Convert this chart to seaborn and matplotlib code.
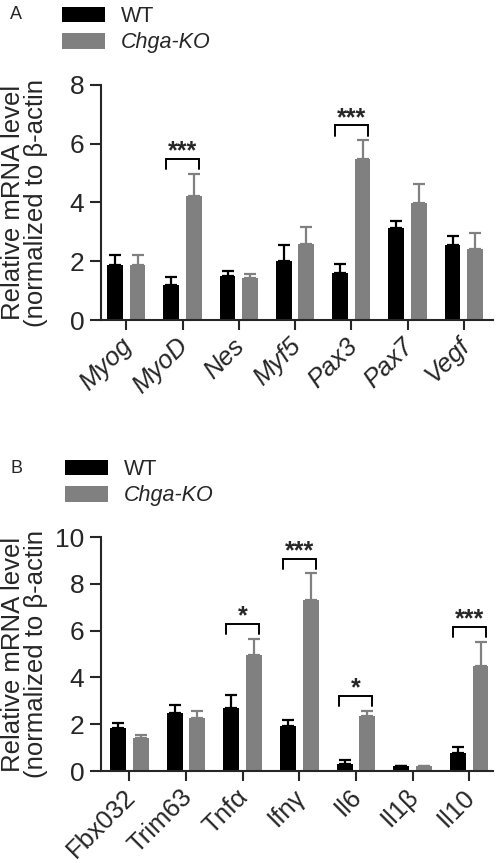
import matplotlib
matplotlib.use("Agg")
import matplotlib.pyplot as plt
import matplotlib.transforms as mtransforms
import seaborn as sns
import pandas as pd
import numpy as np

# ---------------- data ----------------
groups = ["WT", "Chga-KO"]

genes_a = ["Myog", "MyoD", "Nes", "Myf5", "Pax3", "Pax7", "Vegf"]
wt_a = [1.87, 1.19, 1.51, 2.02, 1.61, 3.12, 2.56]
wt_a_err = [0.33, 0.28, 0.17, 0.54, 0.29, 0.26, 0.31]
ko_a = [1.87, 4.23, 1.43, 2.60, 5.47, 3.99, 2.41]
ko_a_err = [0.33, 0.74, 0.12, 0.55, 0.65, 0.65, 0.56]
sig_a = ["", "***", "", "", "***", "", ""]

genes_b = ["Fbx032", "Trim63", "Tnfα", "Ifnγ", "Il6", "Il1β", "Il10"]
wt_b = [1.85, 2.48, 2.68, 1.93, 0.31, 0.20, 0.78]
wt_b_err = [0.19, 0.33, 0.57, 0.25, 0.16, 0.03, 0.23]
ko_b = [1.40, 2.27, 4.95, 7.30, 2.34, 0.21, 4.48]
ko_b_err = [0.14, 0.30, 0.71, 1.15, 0.24, 0.02, 1.04]
sig_b = ["", "", "*", "***", "*", "", "***"]

yticks_a = [0, 2, 4, 6, 8]
yticks_b = [0, 2, 4, 6, 8, 10]
ylabel = "Relative mRNA level\n(normalized to β-actin"

colors = {"WT": "#000000", "Chga-KO": "#808080"}

# ---------------- style ----------------
sns.set_theme(style="ticks")
plt.rcParams["font.family"] = ["Liberation Sans", "DejaVu Sans"]
plt.rcParams["axes.linewidth"] = 1.5

W, H = 496, 863
fig = plt.figure(figsize=(W / 100, H / 100), dpi=100)


def panel(rect, genes, wt, wt_err, ko, ko_err, sig, yticks, xlim, italic,
          leg_anchor, letter, letter_pos):
    ax = fig.add_axes(rect)
    df = pd.DataFrame({
        "gene": genes * 2,
        "group": [groups[0]] * len(genes) + [groups[1]] * len(genes),
        "value": list(wt) + list(ko),
    })
    sns.barplot(data=df, x="gene", y="value", hue="group", hue_order=groups,
                palette=colors, errorbar=None, width=0.8, gap=0.3,
                saturation=1, ax=ax, linewidth=0)
    errs = [wt_err, ko_err]
    bar_conts = list(ax.containers)[:2]
    for ci, cont in enumerate(bar_conts):
        xs = [b.get_x() + b.get_width() / 2 for b in cont]
        ys = [b.get_height() for b in cont]
        e = errs[ci]
        ax.errorbar(xs, ys, yerr=[np.zeros(len(e)), e], fmt="none",
                    ecolor=colors[groups[ci]], elinewidth=1.6, capsize=4,
                    capthick=1.6, zorder=3)
    # significance brackets
    top = yticks[-1]
    tops = [max(a + b, c + d) for a, b, c, d in zip(wt, wt_err, ko, ko_err)]
    for i, s in enumerate(sig):
        if not s:
            continue
        y0 = tops[i] + 0.02 * top
        y1 = y0 + 0.043 * top
        ax.plot([i - 0.29, i - 0.29, i + 0.29, i + 0.29], [y0, y1, y1, y0],
                color="black", lw=1.4, clip_on=False, solid_joinstyle="miter")
        ax.text(i, y1 + 0.002 * top, s, ha="center", va="baseline",
                fontsize=18, fontweight="bold", clip_on=False)
    ax.set_ylim(0, top)
    ax.set_yticks(yticks)
    ax.set_xlim(*xlim)
    ax.set_xlabel("")
    ax.set_ylabel(ylabel, fontsize=18.5, linespacing=0.95)
    ax.yaxis.set_label_coords(-0.135, 0.5)
    sns.despine(ax=ax)
    ax.tick_params(axis="y", labelsize=19, length=8, width=1.5, pad=4)
    ax.tick_params(axis="x", length=7, width=1.5, labelbottom=False)
    ax.set_xticks(range(len(genes)))
    # category labels, rotated 45 degrees, placed under each tick
    trans = mtransforms.blended_transform_factory(ax.transData, ax.transAxes)
    off = mtransforms.ScaledTranslation(1.5 / 72, -16 / 72, fig.dpi_scale_trans)
    for i, g in enumerate(genes):
        ax.text(i, 0, g, transform=trans + off, rotation=45,
                rotation_mode="anchor", ha="right", va="center",
                fontsize=18.5, fontstyle="italic" if italic else "normal")
    sns.move_legend(ax, loc="upper left", bbox_to_anchor=leg_anchor,
                    bbox_transform=fig.transFigure, title=None, frameon=False,
                    fontsize=15.5, handlelength=2.0, handleheight=0.75,
                    handletextpad=0.75, labelspacing=0.25, borderpad=0,
                    borderaxespad=0)
    leg = ax.get_legend()
    leg.get_texts()[1].set_style("italic")
    fig.text(letter_pos[0], letter_pos[1], letter, fontsize=13,
             ha="left", va="top")
    return ax


def fx(px):
    return px / W


def fy(py):
    return 1 - py / H


# panel A: axes from x=101..493, y=85..320
panel([fx(101), fy(320), fx(493) - fx(101), fy(85) - fy(320)],
      genes_a, wt_a, wt_a_err, ko_a, ko_a_err, sig_a, yticks_a,
      (-0.45, 6.52), True, (fx(62), fy(6)), "A", (fx(10), fy(6)))

# panel B: axes from x=101..493, y=537..771
panel([fx(101), fy(771), fx(493) - fx(101), fy(537) - fy(771)],
      genes_b, wt_b, wt_b_err, ko_b, ko_b_err, sig_b, yticks_b,
      (-0.5, 6.42), False, (fx(65), fy(459)), "B", (fx(10), fy(460)))

fig.savefig("out.png", dpi=100)
